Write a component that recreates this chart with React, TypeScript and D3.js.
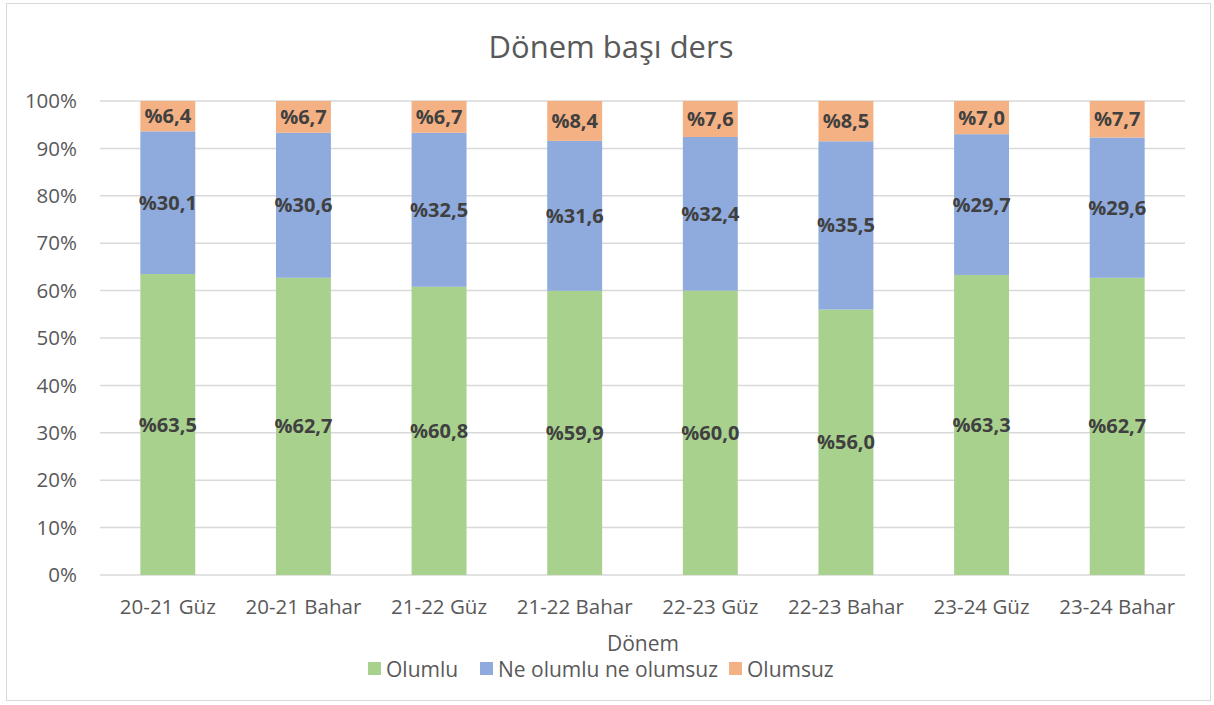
import React, { useEffect, useRef } from "react";
import * as d3 from "d3";

const categories = [
  "20-21 Güz",
  "20-21 Bahar",
  "21-22 Güz",
  "21-22 Bahar",
  "22-23 Güz",
  "22-23 Bahar",
  "23-24 Güz",
  "23-24 Bahar",
];
const olumlu = [63.5, 62.7, 60.8, 59.9, 60.0, 56.0, 63.3, 62.7];
const neOlumluNeOlumsuz = [30.1, 30.6, 32.5, 31.6, 32.4, 35.5, 29.7, 29.6];
const olumsuz = [6.4, 6.7, 6.7, 8.4, 7.6, 8.5, 7.0, 7.7];
const seriesNames = ["Olumlu", "Ne olumlu ne olumsuz", "Olumsuz"];
const seriesColors = ["#a9d18e", "#8faadc", "#f4b183"];
const yTicks = [0, 10, 20, 30, 40, 50, 60, 70, 80, 90, 100];

const W = 1214;
const H = 705;
const FONT = "'Open Sans', sans-serif";

export default function App() {
  const ref = useRef<SVGSVGElement>(null);

  useEffect(() => {
    const svg = d3.select(ref.current);
    svg.selectAll("*").remove();

    const left = 100;
    const right = 1185;
    const top = 101;
    const bottom = 575;

    // Chart border
    svg
      .append("rect")
      .attr("x", 6.5)
      .attr("y", 3.5)
      .attr("width", 1204)
      .attr("height", 697)
      .attr("fill", "#fff")
      .attr("stroke", "#d9d9d9");

    // Title
    svg
      .append("text")
      .attr("x", 611)
      .attr("y", 47)
      .attr("dy", "0.35em")
      .attr("text-anchor", "middle")
      .attr("font-family", FONT)
      .attr("font-size", 31)
      .attr("fill", "#595959")
      .text("Dönem başı ders");

    const x = d3.scaleBand().domain(categories).range([left, right]).paddingInner(0.595).paddingOuter(0.2975);
    const y = d3.scaleLinear().domain([0, 100]).range([bottom, top]);

    // Gridlines
    svg
      .append("g")
      .selectAll("line")
      .data(yTicks)
      .join("line")
      .attr("x1", left)
      .attr("x2", right)
      .attr("y1", (d) => y(d))
      .attr("y2", (d) => y(d))
      .attr("stroke", "#d9d9d9")
      .attr("stroke-width", 1.5);

    // y tick labels
    svg
      .append("g")
      .selectAll("text")
      .data(yTicks)
      .join("text")
      .attr("x", 77)
      .attr("y", (d) => y(d))
      .attr("dy", "0.35em")
      .attr("text-anchor", "end")
      .attr("font-family", FONT)
      .attr("font-size", 20.5)
      .attr("fill", "#595959")
      .text((d) => `${d}%`);

    // Stack data
    const rows = categories.map((c, i) => {
      const total = olumlu[i] + neOlumluNeOlumsuz[i] + olumsuz[i];
      return {
        cat: c,
        s0: (olumlu[i] / total) * 100,
        s1: (neOlumluNeOlumsuz[i] / total) * 100,
        s2: (olumsuz[i] / total) * 100,
        v0: olumlu[i],
        v1: neOlumluNeOlumsuz[i],
        v2: olumsuz[i],
      };
    });
    const stacked = d3.stack<any>().keys(["s0", "s1", "s2"])(rows);
    const fmt = (v: number) => "%" + v.toFixed(1).replace(".", ",");

    stacked.forEach((layer, k) => {
      const g = svg.append("g");
      g.selectAll("rect")
        .data(layer)
        .join("rect")
        .attr("x", (d) => x(d.data.cat)!)
        .attr("width", x.bandwidth())
        .attr("y", (d) => y(d[1]))
        .attr("height", (d) => y(d[0]) - y(d[1]))
        .attr("fill", seriesColors[k]);
      g.selectAll("text")
        .data(layer)
        .join("text")
        .attr("x", (d) => x(d.data.cat)! + x.bandwidth() / 2)
        .attr("y", (d) => y((d[0] + d[1]) / 2))
        .attr("dy", "0.35em")
        .attr("text-anchor", "middle")
        .attr("font-family", FONT)
        .attr("font-weight", "bold")
        .attr("font-size", 20)
        .attr("fill", "#404040")
        .text((d) => fmt(d.data["v" + k]));
    });

    // x category labels
    svg
      .append("g")
      .selectAll("text")
      .data(categories)
      .join("text")
      .attr("x", (d) => x(d)! + x.bandwidth() / 2)
      .attr("y", 607)
      .attr("dy", "0.35em")
      .attr("text-anchor", "middle")
      .attr("font-family", FONT)
      .attr("font-size", 20.5)
      .attr("fill", "#595959")
      .text((d) => d);

    // x axis title
    svg
      .append("text")
      .attr("x", 643)
      .attr("y", 644)
      .attr("dy", "0.35em")
      .attr("text-anchor", "middle")
      .attr("font-family", FONT)
      .attr("font-size", 21)
      .attr("fill", "#595959")
      .text("Dönem");

    // Legend
    const legendX = [368, 480, 729];
    const lg = svg.append("g");
    seriesNames.forEach((name, i) => {
      lg.append("rect")
        .attr("x", legendX[i])
        .attr("y", 662)
        .attr("width", 13)
        .attr("height", 13)
        .attr("fill", seriesColors[i]);
      lg.append("text")
        .attr("x", legendX[i] + 18)
        .attr("y", 670)
        .attr("dy", "0.35em")
        .attr("font-family", FONT)
        .attr("font-size", 21)
        .attr("fill", "#595959")
        .text(name);
    });
  }, []);

  return (
    <svg
      ref={ref}
      width={W}
      height={H}
      style={{ position: "absolute", left: 0, top: 0, display: "block" }}
    />
  );
}
